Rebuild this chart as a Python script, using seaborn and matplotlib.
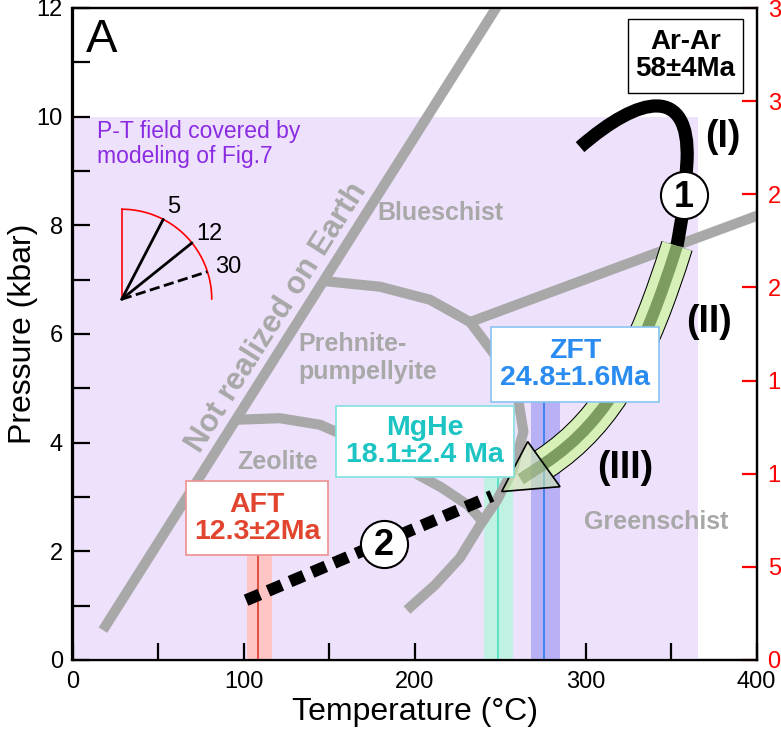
import numpy as np
import pandas as pd
import matplotlib
matplotlib.use("Agg")
import matplotlib.pyplot as plt
import seaborn as sns
from matplotlib.path import Path
from matplotlib.patches import PathPatch, Rectangle, Polygon

# ---------------- data ----------------
field_T = [0, 366]          # P-T field covered by modelling
field_P = [0, 10]

notreal_T = [17.8, 253.7]
notreal_P = [0.55, 12.3]

arc_T = [145.3, 179.8, 209.1, 232.5, 247.1, 260.2, 263.7, 257.6, 248.2, 238.3, 226.6, 212.0, 195.6]
arc_P = [6.98, 6.87, 6.63, 6.22, 5.61, 4.88, 4.20, 3.50, 2.94, 2.48, 1.88, 1.38, 0.92]

zeo_T = [94.4, 121.3, 144.7, 168.1, 191.5, 215.5, 231.3, 240.1]
zeo_P = [4.42, 4.45, 4.33, 4.01, 3.59, 3.18, 2.85, 2.54]

bg_T = [232.5, 410.0]
bg_P = [6.22, 8.29]

facies_names = ["Blueschist", "Prehnite-\npumpellyite", "Zeolite", "Greenschist"]
facies_T = [214.9, 131.9, 119.9, 341.4]
facies_P = [8.22, 5.56, 3.64, 2.54]

# thermochronometers
chron_names = ["AFT\n12.3±2Ma", "MgHe\n18.1±2.4 Ma", "ZFT\n24.8±1.6Ma"]
chron_T = [108.5, 248.7, 275.9]
chron_lo = [102.0, 240.6, 268.0]
chron_hi = [116.7, 257.8, 285.0]
chron_top = [1.93, 3.37, 4.75]
box_T0 = [66.4, 154.0, 244.5]
box_T1 = [149.4, 258.2, 343.0]
box_P0 = [1.93, 3.37, 4.75]
box_P1 = [3.29, 4.67, 6.13]
chron_col = ["#E2452F", "#1CC4C4", "#2A8CF0"]
band_col = ["#FFC4C4", "#C0F2E4", "#B9B1F6"]
line_col = ["#E04632", "#52E2C6", "#3A7FF0"]
edge_col = ["#EE9090", "#80E2E2", "#88C4F2"]

# path (I): Ar-Ar cooling path (cubic Bezier control points + tail)
pathI_T = [296.8, 331.9, 361.1, 359.4, 357.6, 353.5]
pathI_P = [9.44, 10.40, 10.58, 9.20, 8.37, 7.62]

# path (II)-(III): green arrow
arrow_T = [353.5, 334.2, 314.7, 275.7]
arrow_P = [7.62, 5.69, 4.42, 3.61]
head_T = [266.2, 251.0, 285.1]
head_P = [4.02, 3.10, 3.19]

# path 2: dashed
dash_T = [101.5, 245.3]
dash_P = [1.10, 3.02]

stage_labels = ["(I)", "(II)", "(III)"]
stage_T = [380.1, 372.2, 323.1]
stage_P = [9.63, 6.23, 3.53]

circ_labels = ["1", "2"]
circ_T = [357.6, 182.2]
circ_P = [8.56, 2.14]

# geothermal gradient wedge
grad_vals = [5, 12, 30]
grad_center = (28.8, 6.64)

depth_ticks = [0, 5, 10, 15, 20, 25, 30, 35]

# ---------------- style ----------------
sns.set_theme(style="ticks")
plt.rcParams["font.family"] = ["Liberation Sans", "DejaVu Sans"]
plt.rcParams["text.color"] = "black"
plt.rcParams["axes.labelcolor"] = "black"
plt.rcParams["xtick.color"] = "black"
plt.rcParams["ytick.color"] = "black"
GRAY = "#A8A8A8"

W, H = 781, 739
fig = plt.figure(figsize=(W / 100, H / 100), dpi=100)
x0, x1, y0, y1 = 72.5, 756.5, 8, 660
ax = fig.add_axes([x0 / W, 1 - y1 / H, (x1 - x0) / W, (y1 - y0) / H])
ax.set_xlim(0, 400)
ax.set_ylim(0, 12)
sx = (x1 - x0) / 400.0   # px per degC
sy = (y1 - y0) / 12.0    # px per kbar

# P-T field
ax.fill_between(field_T, field_P[0], field_P[1], color="#EEE1FB", lw=0, zorder=0)

# bands
for lo, hi, top, tc, bc, lc in zip(chron_lo, chron_hi, chron_top, chron_T, band_col, line_col):
    ax.fill_between([lo, hi], 0, top, color=bc, lw=0, zorder=1)
    ax.plot([tc, tc], [0, top], color=lc, lw=1.3, zorder=1.5)

# facies boundaries
for xs, ys in [(notreal_T, notreal_P), (arc_T, arc_P), (zeo_T, zeo_P), (bg_T, bg_P)]:
    sns.lineplot(x=xs, y=ys, sort=False, estimator=None, color=GRAY, lw=7.3,
                 ax=ax, solid_capstyle="butt", solid_joinstyle="round", zorder=2)

for name, t, p in zip(facies_names, facies_T, facies_P):
    ha = "left" if name.startswith("Prehnite") else "center"
    ax.text(t, p, name, color=GRAY, fontsize=18, fontweight="bold", ha=ha, va="center",
            linespacing=1.2, zorder=3)

# label along the "not realized" boundary, offset to its upper-left side
ang_r = np.arctan2((notreal_P[1] - notreal_P[0]) * sy, (notreal_T[1] - notreal_T[0]) * sx)
ang = np.degrees(ang_r)
midP = 6.1
midT = notreal_T[0] + (midP - notreal_P[0]) * (notreal_T[1] - notreal_T[0]) / (notreal_P[1] - notreal_P[0])
off = 20.0
tT = midT - off * np.sin(ang_r) / sx
tP = midP + off * np.cos(ang_r) / sy
ax.text(tT, tP, "Not realized on Earth", color=GRAY, fontsize=22.5, fontweight="bold",
        rotation=ang, rotation_mode="anchor", ha="center", va="center", zorder=3)

# dashed path 2
sns.lineplot(x=dash_T, y=dash_P, sort=False, estimator=None, color="black", lw=8.6,
             linestyle=(0, (1.25, 0.75)), dash_capstyle="butt", ax=ax, zorder=4)

# path (I)
vI = list(zip(pathI_T, pathI_P))
codesI = [Path.MOVETO, Path.CURVE4, Path.CURVE4, Path.CURVE4, Path.LINETO, Path.LINETO]
ax.add_patch(PathPatch(Path(vI, codesI), fill=False, lw=9.5, edgecolor="black",
                       capstyle="butt", joinstyle="round", zorder=4))

# green arrow
va_ = list(zip(arrow_T, arrow_P))
codesA = [Path.MOVETO, Path.CURVE4, Path.CURVE4, Path.CURVE4]
pa = Path(va_, codesA)
ax.add_patch(PathPatch(pa, fill=False, lw=23.5, edgecolor="black", capstyle="butt", zorder=5))
ax.add_patch(PathPatch(pa, fill=False, lw=22.0, edgecolor="#D6F0B8", capstyle="butt", zorder=5.1))
ax.add_patch(PathPatch(pa, fill=False, lw=8.5, edgecolor="#7D9D60", capstyle="butt", zorder=5.2))
ax.add_patch(Polygon(list(zip(head_T, head_P)), closed=True, facecolor="#CDEBA8", alpha=0.6,
                     edgecolor="none", zorder=5.3))
ax.add_patch(Polygon(list(zip(head_T, head_P)), closed=True, facecolor="none",
                     edgecolor="black", lw=1.2, zorder=5.4))
bc_T = (head_T[0] + head_T[2]) / 2
bc_P = (head_P[0] + head_P[2]) / 2
ax.plot([bc_T, bc_T + 0.55 * (head_T[1] - bc_T)], [bc_P, bc_P + 0.55 * (head_P[1] - bc_P)],
        color="#7D9D60", lw=8.5, alpha=0.6, solid_capstyle="butt", zorder=5.35)

# boxes
for name, a0, a1, b0, b1, c, e in zip(chron_names, box_T0, box_T1, box_P0, box_P1, chron_col, edge_col):
    ax.add_patch(Rectangle((a0, b0), a1 - a0, b1 - b0, facecolor="white", edgecolor=e, lw=1.2, zorder=6))
    ax.text((a0 + a1) / 2, (b0 + b1) / 2, name, color=c, fontsize=20.5, fontweight="bold",
            ha="center", va="center", linespacing=1.05, zorder=6.5)

ax.add_patch(Rectangle((324.9, 10.44), 392.1 - 324.9, 11.8 - 10.44, facecolor="white",
                       edgecolor="black", lw=1.0, zorder=6))
ax.text(358.5, 11.12, "Ar-Ar\n58±4Ma", color="black", fontsize=20, fontweight="bold",
        ha="center", va="center", linespacing=1.05, zorder=6.5)

# stage labels
for s, t, p in zip(stage_labels, stage_T, stage_P):
    ax.text(t, p, s, color="black", fontsize=27, fontweight="bold", ha="center", va="center", zorder=6)

# numbered circles
ax.scatter(circ_T, circ_P, s=1150, facecolor="white", edgecolor="black", lw=1.5, zorder=7)
for s, t, p in zip(circ_labels, circ_T, circ_P):
    ax.text(t, p - 0.04, s, color="black", fontsize=26, fontweight="bold", ha="center",
            va="center", zorder=8)

# geothermal-gradient wedge
Rpx = 90.0
cT, cP = grad_center
th = np.linspace(0, np.pi / 2, 60)
ax.plot(cT + Rpx * np.cos(th) / sx, cP + Rpx * np.sin(th) / sy, color="red", lw=1.2, zorder=4)
ax.plot([cT, cT], [cP, cP + Rpx / sy], color="red", lw=1.2, zorder=4)
km_per_kbar = 3.3
for g in grad_vals:
    a = np.arctan2(sy, sx * g * km_per_kbar)
    eT, eP = cT + Rpx * np.cos(a) / sx, cP + Rpx * np.sin(a) / sy
    ls = "--" if g == 30 else "-"
    ax.plot([cT, eT], [cP, eP], color="black", lw=2.0, ls=ls, zorder=4.5)
    oT, oP = cT + (Rpx + 22) * np.cos(a) / sx, cP + (Rpx + 14) * np.sin(a) / sy
    ax.text(oT, oP, str(g), color="black", fontsize=17, ha="center", va="center", zorder=4.5)

# texts
ax.text(7.9, 11.19, "A", color="black", fontsize=34, ha="left", va="baseline", zorder=8)
ax.text(14.3, 9.5, "P-T field covered by\nmodeling of Fig.7", color="#8A2BE2", fontsize=16.5,
        ha="left", va="center", linespacing=1.1, zorder=3)

# axes styling
ax.set_xticks([0, 100, 200, 300, 400])
ax.set_xticks([50, 150, 250, 350], minor=True)
ax.set_yticks([0, 2, 4, 6, 8, 10, 12])
ax.set_yticks([1, 3, 5, 7, 9, 11], minor=True)
ax.tick_params(axis="both", which="both", direction="in", length=12, width=1.6, color="black",
               labelcolor="black", labelsize=17, top=False, right=False)
ax.tick_params(axis="x", which="major", pad=8)
ax.tick_params(axis="y", which="major", pad=7)
for sp in ax.spines.values():
    sp.set_linewidth(1.6)
    sp.set_color("black")
ax.set_xlabel("Temperature (°C)", fontsize=23, color="black")
ax.xaxis.set_label_coords(0.5, -0.056)
ax.set_ylabel("Pressure (kbar)", fontsize=23, color="black")
ax.yaxis.set_label_coords(-0.05, 0.5)

ax2 = ax.twinx()
ax2.set_ylim(0, 35)
ax2.set_yticks(depth_ticks)
ax2.tick_params(axis="y", direction="in", length=11, width=1.6, color="red", labelcolor="red",
                labelsize=17, pad=8)
for sp in ax2.spines.values():
    sp.set_linewidth(1.6)
    sp.set_color("black")
ax2.set_zorder(ax.get_zorder() - 1)
ax.patch.set_visible(False)

fig.savefig("out.png", dpi=100)
